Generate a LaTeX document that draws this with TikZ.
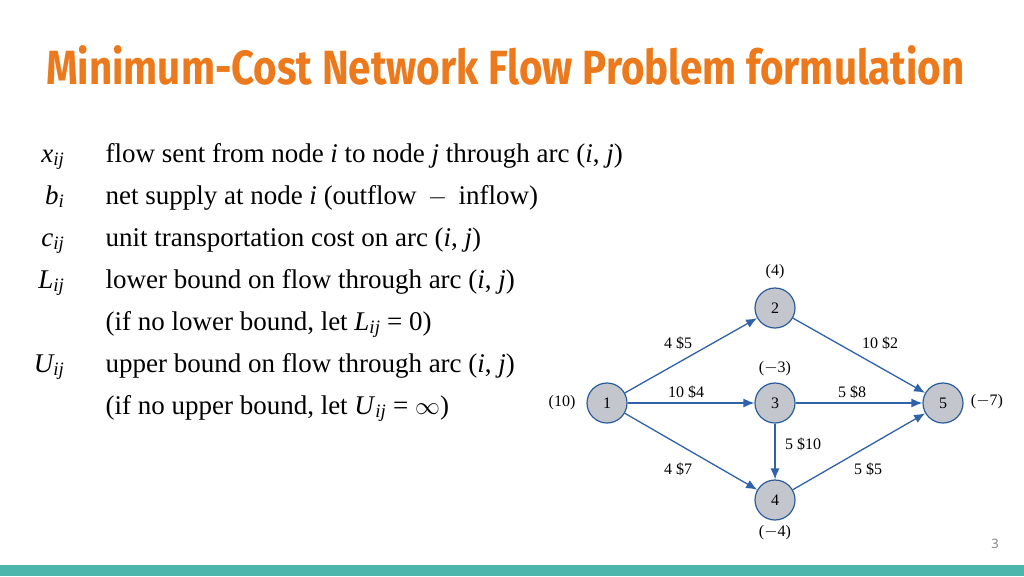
\documentclass[tikz,border=0pt]{standalone}
\usepackage{fontspec}
\setmainfont{Liberation Serif}
\newfontfamily\titlefont[FakeStretch=0.84]{Fira Sans}
\newfontfamily\pgfont{Open Sans}
\usetikzlibrary{arrows.meta}
\definecolor{torange}{HTML}{EC7A1C}
\definecolor{teal}{HTML}{4DB6AC}
\definecolor{nfill}{HTML}{C4C6CE}
\definecolor{nedge}{HTML}{2A5C9A}
\definecolor{arc}{HTML}{2F62A8}
\begin{document}
\begin{tikzpicture}[x=1pt,y=-1pt,
  nd/.style={circle,draw=nedge,fill=nfill,line width=1.2pt,minimum size=40pt,inner sep=0pt,font=\fontsize{16}{16}\selectfont},
  lb/.style={font=\fontsize{16}{16}\selectfont},
  ar/.style={draw=arc,line width=1.3pt,-{Latex[length=11pt,width=9pt]}},
  sym/.style={anchor=base east,font=\fontsize{27}{27}\selectfont},
  desc/.style={anchor=base west,font=\fontsize{27}{27}\selectfont}]
\useasboundingbox (0,0) rectangle (1024,576);
\fill[white] (0,0) rectangle (1024,576);
\fill[teal] (0,565) rectangle (1024,576);
\node[anchor=base west,inner sep=0pt,text=torange,font=\titlefont\bfseries\fontsize{48}{48}\selectfont] (title) at (46,84) {Minimum-Cost Network Flow Problem formulation};
\node[sym] (s1) at (68,162) {\itshape x\textsubscript{ij}};
\node[desc] (d1) at (102,162) {flow sent from node \textit{i} to node \textit{j} through arc (\textit{i}, \textit{j})};
\node[sym] (s2) at (68,204) {\itshape b\textsubscript{i}};
\node[desc] (d2) at (102,204) {net supply at node \textit{i} (outflow \,$-$\, inflow)};
\node[sym] (s3) at (68,246) {\itshape c\textsubscript{ij}};
\node[desc] (d3) at (102,246) {unit transportation cost on arc (\textit{i}, \textit{j})};
\node[sym] (s4) at (68,288) {\itshape L\textsubscript{ij}};
\node[desc] (d4) at (102,288) {lower bound on flow through arc (\textit{i}, \textit{j})};
\node[desc] (d5) at (102,330) {(if no lower bound, let \textit{L}\textsubscript{\itshape ij} = 0)};
\node[sym] (s6) at (68,372) {\itshape U\textsubscript{ij}};
\node[desc] (d6) at (102,372) {upper bound on flow through arc (\textit{i}, \textit{j})};
\node[desc] (d7) at (102,414) {(if no upper bound, let \textit{U}\textsubscript{\itshape ij} = $\infty$)};
\node[nd] (n1) at (607,403) {1};
\node[nd] (n2) at (775,308) {2};
\node[nd] (n3) at (775,403) {3};
\node[nd] (n4) at (775,500) {4};
\node[nd] (n5) at (943,403) {5};
\node[lb] (b1) at (562,403) {(10)};
\node[lb] (b2) at (775,272) {(4)};
\node[lb] (b3) at (775,369) {($-$3)};
\node[lb] (b4) at (775,533) {($-$4)};
\node[lb] (b5) at (987,402) {($-$7)};
\draw[ar] (n1) -- (n2);
\draw[ar] (n1) -- (n3);
\draw[ar] (n1) -- (n4);
\draw[ar] (n2) -- (n5);
\draw[ar] (n3) -- (n5);
\draw[ar] (n3) -- (n4);
\draw[ar] (n4) -- (n5);
\node[lb] (l12) at (678,343) {4 \$5};
\node[lb] (l13) at (686,392) {10 \$4};
\node[lb] (l14) at (678,469) {4 \$7};
\node[lb] (l25) at (880,343) {10 \$2};
\node[lb] (l35) at (852,392) {5 \$8};
\node[lb] (l34) at (803,444) {5 \$10};
\node[lb] (l45) at (868,469) {5 \$5};
\node[text=gray,font=\pgfont\fontsize{13}{13}\selectfont] (pg) at (995,544) {3};
\end{tikzpicture}
\end{document}
